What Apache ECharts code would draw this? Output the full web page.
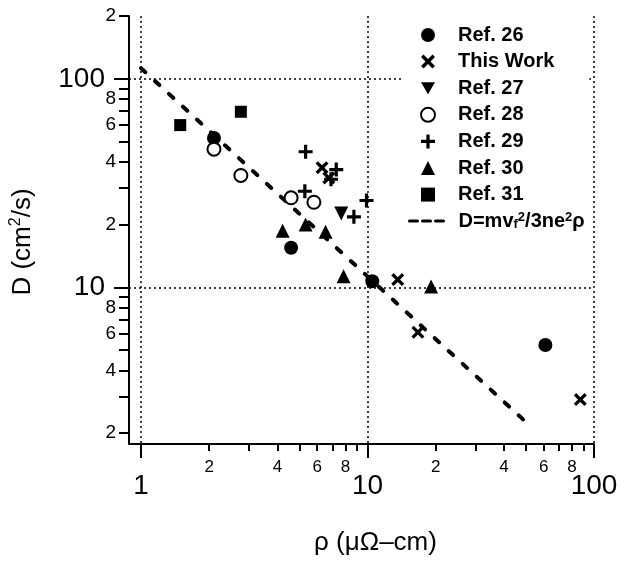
<!DOCTYPE html>
<html>
<head>
<meta charset="utf-8">
<script src="https://cdn.jsdelivr.net/npm/echarts@6/dist/echarts.min.js"></script>
<style>
html,body{margin:0;padding:0;background:#fff;}
#chart{width:629px;height:561px;}
</style>
</head>
<body>
<div id="chart"></div>
<script>
// ---- data ----
const ref26 = [[2.1, 52], [4.6, 15.5], [10.5, 10.7], [61, 5.3]];
const thisWork = [[6.3, 37.5], [6.75, 33.5], [13.6, 10.9], [16.7, 6.1], [87, 2.9]];
const ref27 = [[7.66, 22.6]];
const ref28 = [[2.1, 46], [2.76, 34.4], [4.6, 26.9], [5.8, 25.6]];
const ref29 = [[5.33, 44.7], [7.28, 36.7], [6.9, 33], [5.29, 28.9], [8.71, 21.8], [9.9, 26.1]];
const ref30 = [[4.22, 18.7], [5.33, 20.0], [6.53, 18.5], [7.84, 11.3], [19.1, 10.1]];
const ref31 = [[1.49, 60], [2.76, 69.5]];
const modelLine = [[1, 112.5], [53.2, 2.13]];

const seriesNames = ['Ref. 26', 'This Work', 'Ref. 27', 'Ref. 28', 'Ref. 29', 'Ref. 30', 'Ref. 31', 'D=mv_f^2/3ne^2ρ'];

// axis ticks / labels
const xMinorTicks = [2,3,4,5,6,7,8,9,20,30,40,50,60,70,80,90];
const xMinorLabels = [2,4,6,8,20,40,60,80];
const xMajorTicks = [1,10,100];
const yMinorTicks = [2,3,4,5,6,7,8,9,20,30,40,50,60,70,80,90,200];
const yMinorLabels = [2,4,6,8,20,40,60,80,200];
const yMajorTicks = [10,100];
const xRange = [0.8853, 100];
const yRange = [1.776, 200];

const FONT = 'Liberation Sans, Arial, Helvetica, sans-serif';
const firstDigit = v => String(Math.round(v / Math.pow(10, Math.floor(Math.log10(v) + 1e-9))));

const X_PATH = 'path://M0,2.5L2.5,0L7,4.5L11.5,0L14,2.5L9.5,7L14,11.5L11.5,14L7,9.5L2.5,14L0,11.5L4.5,7Z';
const PLUS_PATH = 'path://M5.4,0H8.6V5.4H14V8.6H8.6V14H5.4V8.6H0V5.4H5.4Z';
const DOWN_TRI = 'path://M0,0L14,0L7,12.1Z';

const chart = echarts.init(document.getElementById('chart'), null, {renderer: 'canvas'});

const axisLineStyle = {color: '#000', width: 2};
const dotted = {color: '#000', width: 1.5, type: [2, 3]};

function scatter(name, data, symbol, size, extra) {
  return Object.assign({
    name, type: 'scatter', data, symbol, symbolSize: size,
    itemStyle: {color: '#000', opacity: 1}, z: 3
  }, extra || {});
}

const legendText = {
  fontSize: 20, fontWeight: 'bold', fontFamily: FONT, color: '#000', lineHeight: 20,
  rich: {
    t: {fontSize: 20, fontWeight: 'bold', fontFamily: FONT, color: '#000', lineHeight: 20},
    sub: {fontSize: 13, fontWeight: 'bold', fontFamily: FONT, color: '#000', lineHeight: 12, verticalAlign: 'bottom'},
    sup: {fontSize: 13, fontWeight: 'bold', fontFamily: FONT, color: '#000', lineHeight: 12, verticalAlign: 'top'}
  }
};

const option = {
  backgroundColor: '#fff',
  animation: false,
  grid: {left: 128, right: 629 - 594, top: 16, bottom: 561 - 445},
  xAxis: [
    {
      type: 'log', min: xRange[0], max: xRange[1], position: 'bottom',
      axisLine: {show: true, lineStyle: axisLineStyle},
      axisTick: {show: true, customValues: xMinorTicks, length: 7, lineStyle: {color: '#000', width: 2}},
      axisLabel: {show: true, customValues: xMinorLabels, formatter: firstDigit, fontSize: 17, color: '#000', fontFamily: FONT, margin: 15},
      splitLine: {show: false}
    },
    {
      type: 'log', min: xRange[0], max: xRange[1], position: 'bottom',
      axisLine: {show: false},
      axisTick: {show: true, customValues: xMajorTicks, length: 14, lineStyle: {color: '#000', width: 2}},
      axisLabel: {show: true, customValues: xMajorTicks, formatter: v => String(v), fontSize: 28, color: '#000', fontFamily: FONT, margin: 28},
      splitLine: {show: true, lineStyle: dotted},
      name: 'ρ (μΩ–cm)', nameLocation: 'middle', nameGap: 86,
      nameTextStyle: {fontSize: 26, color: '#000', fontFamily: FONT, padding: [0, 0, 0, 28]}
    }
  ],
  yAxis: [
    {
      type: 'log', min: yRange[0], max: yRange[1], position: 'left',
      axisLine: {show: true, lineStyle: axisLineStyle},
      axisTick: {show: true, customValues: yMinorTicks, length: 10, lineStyle: {color: '#000', width: 2}},
      axisLabel: {show: true, customValues: yMinorLabels, formatter: firstDigit, fontSize: 19, color: '#000', fontFamily: FONT, margin: 13},
      splitLine: {show: false}
    },
    {
      type: 'log', min: yRange[0], max: yRange[1], position: 'left',
      axisLine: {show: false},
      axisTick: {show: true, customValues: yMajorTicks, length: 15, lineStyle: {color: '#000', width: 2}},
      axisLabel: {show: true, customValues: yMajorTicks, formatter: v => String(v), fontSize: 28, color: '#000', fontFamily: FONT, margin: 24},
      splitLine: {show: true, lineStyle: dotted},
      name: '{a|D (cm}{s|2}{a|/s)}', nameLocation: 'middle', nameGap: 91, nameRotate: 90,
      nameTextStyle: {
        color: '#000', fontFamily: FONT, padding: [0, 24, 0, 0],
        rich: {
          a: {fontSize: 26, fontFamily: FONT, color: '#000', lineHeight: 30},
          s: {fontSize: 16, fontFamily: FONT, color: '#000', lineHeight: 14, verticalAlign: 'top'}
        }
      }
    }
  ],
  legend: [
    {
      show: true, orient: 'vertical', left: 404, top: 23,
      padding: [2, 35, 2, 16], backgroundColor: '#fff',
      itemWidth: 14, itemHeight: 14, itemGap: 6.6,
      data: seriesNames.slice(0, 7),
      textStyle: Object.assign({}, legendText, {padding: [0, 0, 0, 18]})
    },
    {
      show: true, orient: 'vertical', left: 404, top: 209,
      padding: [2, 6, 2, 4], backgroundColor: '#fff',
      itemWidth: 34, itemHeight: 14,
      data: [seriesNames[7]],
      itemStyle: {color: 'rgba(0,0,0,0)', borderWidth: 0, opacity: 0},
      textStyle: Object.assign({}, legendText, {padding: [0, 0, 0, 10]}),
      formatter: function () {
        return '{t|D=mv}{sub|f}{sup|2}{t|/3ne}{sup|2}{t|ρ}';
      },
      lineStyle: {type: [8, 5], width: 3}
    }
  ],
  series: [
    scatter(seriesNames[0], ref26, 'circle', 14),
    scatter(seriesNames[1], thisWork, X_PATH, 13),
    scatter(seriesNames[2], ref27, DOWN_TRI, 14),
    scatter(seriesNames[3], ref28, 'emptyCircle', 13, {itemStyle: {color: '#000', borderColor: '#000', borderWidth: 3, opacity: 1}}),
    scatter(seriesNames[4], ref29, PLUS_PATH, 14),
    scatter(seriesNames[5], ref30, 'triangle', 14),
    scatter(seriesNames[6], ref31, 'rect', 12),
    {
      name: seriesNames[7], type: 'line', data: modelLine, symbol: 'none',
      lineStyle: {color: '#000', width: 4, type: [6, 13], cap: 'round'},
      itemStyle: {color: '#000'}, z: 2
    }
  ]
};
chart.setOption(option);
</script>
</body>
</html>
